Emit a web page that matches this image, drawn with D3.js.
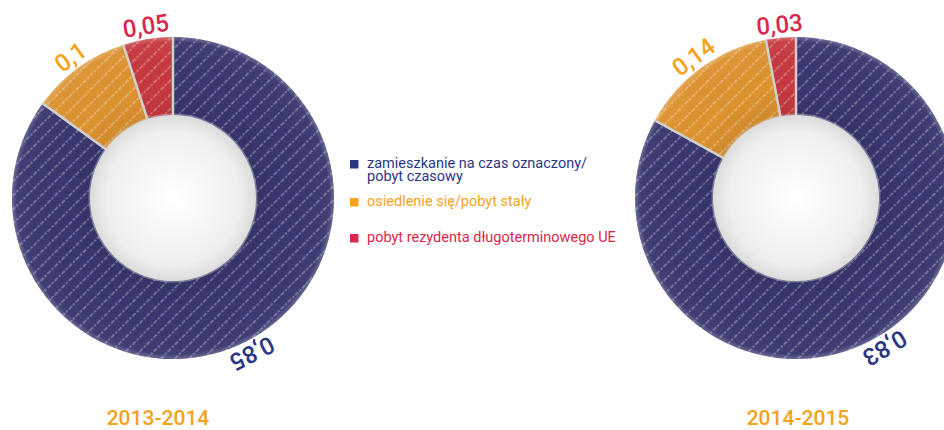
<!DOCTYPE html>
<html lang="pl">
<head>
  <meta charset="UTF-8" />
  <title>Rodzaje zezwoleń 2013-2015</title>
  <script src="https://d3js.org/d3.v7.min.js"></script>
  <style>
    body { margin: 0; background: #fff; }
    svg { display: block; font-family: Roboto, "Noto Sans", sans-serif; }
  </style>
</head>
<body>
  <svg width="944" height="430"></svg>

  <script>
    const categories = [
      ["zamieszkanie na czas oznaczony/", "pobyt czasowy"],
      ["osiedlenie się/pobyt stały"],
      ["pobyt rezydenta długoterminowego UE"]
    ];
    const years = ["2013-2014", "2014-2015"];
    const values2013 = [0.85, 0.10, 0.05];
    const values2014 = [0.83, 0.14, 0.03];

    const sliceColors = ["#38376f", "#dc922f", "#c6383f"];
    const textColors = ["#2b3683", "#f5a21d", "#d9284b"];

    const svg = d3.select("svg");
    const defs = svg.append("defs");

    // dashed diagonal hatch over the slices
    const hatch = defs.append("pattern")
      .attr("id", "hatch")
      .attr("patternUnits", "userSpaceOnUse")
      .attr("width", 10)
      .attr("height", 10)
      .attr("patternTransform", "rotate(45)");
    hatch.append("line")
      .attr("x1", 5).attr("y1", 0)
      .attr("x2", 5).attr("y2", 10)
      .attr("stroke", "#fff")
      .attr("stroke-opacity", 0.42)
      .attr("stroke-width", 1.3)
      .attr("stroke-dasharray", "2.5,1.5");

    const hole = defs.append("radialGradient")
      .attr("id", "hole")
      .attr("cx", "50%").attr("cy", "50%").attr("r", "50%");
    hole.append("stop").attr("offset", "0%").attr("stop-color", "#ffffff");
    hole.append("stop").attr("offset", "80%").attr("stop-color", "#efefef");
    hole.append("stop").attr("offset", "100%").attr("stop-color", "#dcdcdc");

    const ringShade = defs.append("radialGradient")
      .attr("id", "ringShade")
      .attr("cx", "50%").attr("cy", "50%").attr("r", "50%");
    ringShade.append("stop").attr("offset", "50%").attr("stop-color", "#000").attr("stop-opacity", 0.06);
    ringShade.append("stop").attr("offset", "70%").attr("stop-color", "#000").attr("stop-opacity", 0);
    ringShade.append("stop").attr("offset", "97%").attr("stop-color", "#fff").attr("stop-opacity", 0.04);
    ringShade.append("stop").attr("offset", "100%").attr("stop-color", "#fff").attr("stop-opacity", 0.25);

    const outerR = 161, innerR = 83, labelR = 166;
    const charts = [
      { year: years[0], values: values2013, cx: 173, cy: 198, yearX: 158 },
      { year: years[1], values: values2014, cx: 796, cy: 198, yearX: 798 }
    ];

    const pie = d3.pie().sort(null).value(d => d);
    const arc = d3.arc().innerRadius(0).outerRadius(outerR);
    const fmt = v => String(v).replace(".", ",");

    charts.forEach(c => {
      const g = svg.append("g").attr("transform", `translate(${c.cx},${c.cy})`);
      const arcs = pie(c.values);

      g.selectAll("path.slice")
        .data(arcs)
        .join("path")
        .attr("class", "slice")
        .attr("d", arc)
        .attr("fill", (d, i) => sliceColors[i]);

      g.selectAll("path.hatch")
        .data(arcs)
        .join("path")
        .attr("class", "hatch")
        .attr("d", arc)
        .attr("fill", "url(#hatch)");

      g.append("circle").attr("r", outerR).attr("fill", "url(#ringShade)");

      // separators between slices
      g.selectAll("line.sep")
        .data(arcs)
        .join("line")
        .attr("class", "sep")
        .attr("x1", 0).attr("y1", 0)
        .attr("x2", d => outerR * Math.sin(d.startAngle))
        .attr("y2", d => -outerR * Math.cos(d.startAngle))
        .attr("stroke", "#d0d0d0")
        .attr("stroke-width", 2.5);

      g.append("circle")
        .attr("r", innerR + 1.5)
        .attr("fill", "#cfcfcf")
        .attr("opacity", 0.45);
      g.append("circle").attr("r", innerR).attr("fill", "url(#hole)");

      // value labels following the ring
      g.selectAll("text.val")
        .data(arcs)
        .join("text")
        .attr("class", "val")
        .attr("transform", d => {
          const a = (d.startAngle + d.endAngle) / 2;
          const x = labelR * Math.sin(a), y = -labelR * Math.cos(a);
          return `translate(${x},${y}) rotate(${a * 180 / Math.PI})`;
        })
        .attr("text-anchor", "middle")
        .attr("fill", (d, i) => textColors[i])
        .style("font-size", "24px")
        .style("font-weight", 500)
        .text(d => fmt(d.data));

      svg.append("text")
        .attr("x", c.yearX)
        .attr("y", 425)
        .attr("text-anchor", "middle")
        .attr("fill", "#f5a21d")
        .style("font-size", "21px")
        .style("font-weight", 500)
        .text(c.year);
    });

    // legend
    const legendY = [168, 206, 242];
    const legend = svg.append("g");
    categories.forEach((lines, i) => {
      legend.append("rect")
        .attr("x", 350)
        .attr("y", legendY[i] - 8)
        .attr("width", 8.5)
        .attr("height", 8.5)
        .attr("fill", textColors[i]);
      const t = legend.append("text")
        .attr("x", 367)
        .attr("y", legendY[i])
        .attr("fill", textColors[i])
        .style("font-size", "14.5px");
      lines.forEach((s, j) => {
        t.append("tspan").attr("x", 367).attr("dy", j ? 13 : 0).text(s);
      });
    });
  </script>
</body>
</html>
